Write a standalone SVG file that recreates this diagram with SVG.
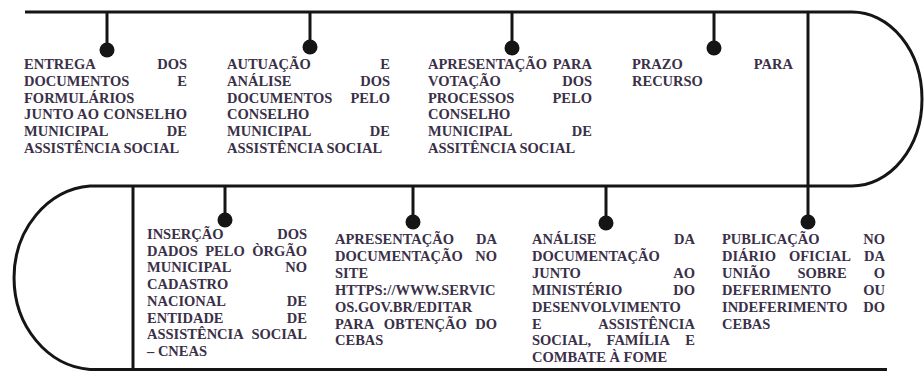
<svg xmlns="http://www.w3.org/2000/svg" width="924" height="371" viewBox="0 0 924 371">
<style>
.ln{fill:none;stroke:#151515;stroke-width:3}
.st{stroke:#151515;stroke-width:3}
.dot{fill:#151515}
.tx{font-family:'Liberation Serif','Times New Roman',Times,'DejaVu Serif',serif;font-weight:700;font-size:14.5px;fill:#3a3048}
.r{text-anchor:end}
.m{text-anchor:middle}
</style>
<rect width="924" height="371" fill="#fff"/>
<g id="connectors">
<path class="ln" d="M25 12 H852 A70 87 0 0 1 852 186 H90 A82 92 0 0 0 90 369.5 H887"/>
<line class="st" x1="133" y1="186" x2="133" y2="371"/>
<line class="st" x1="107" y1="12" x2="107" y2="50"/>
<line class="st" x1="310" y1="12" x2="310" y2="47"/>
<line class="st" x1="512" y1="12" x2="512" y2="48"/>
<line class="st" x1="714" y1="12" x2="714" y2="48"/>
<line class="st" x1="225" y1="186" x2="225" y2="220"/>
<line class="st" x1="413" y1="186" x2="413" y2="222"/>
<line class="st" x1="606" y1="186" x2="606" y2="223"/>
<line class="st" x1="808" y1="12" x2="808" y2="222"/>
</g>
<g class="tx" font-family="Liberation Serif, Times New Roman, DejaVu Serif, serif">
<g id="n1">
<circle class="dot" cx="107" cy="50" r="7.5"/>
<text x="24" y="69">ENTREGA</text><text class="r" x="187" y="69">DOS</text>
<text x="24" y="85.8">DOCUMENTOS</text><text class="r" x="187" y="85.8">E</text>
<text x="24" y="102.6">FORMULÁRIOS</text>
<text x="24" y="119.4" textLength="163" lengthAdjust="spacing">JUNTO AO CONSELHO</text>
<text x="24" y="136.2">MUNICIPAL</text><text class="r" x="187" y="136.2">DE</text>
<text x="24" y="153">ASSISTÊNCIA SOCIAL</text>
</g>
<g id="n2">
<circle class="dot" cx="310" cy="47" r="7.5"/>
<text x="227" y="69">AUTUAÇÃO</text><text class="r" x="390" y="69">E</text>
<text x="227" y="85.8">ANÁLISE</text><text class="r" x="390" y="85.8">DOS</text>
<text x="227" y="102.6">DOCUMENTOS</text><text class="r" x="390" y="102.6">PELO</text>
<text x="227" y="119.4">CONSELHO</text>
<text x="227" y="136.2">MUNICIPAL</text><text class="r" x="390" y="136.2">DE</text>
<text x="227" y="153">ASSISTÊNCIA SOCIAL</text>
</g>
<g id="n3">
<circle class="dot" cx="512" cy="48" r="7.5"/>
<text x="428" y="69">APRESENTAÇÃO</text><text class="r" x="592" y="69">PARA</text>
<text x="428" y="85.8">VOTAÇÃO</text><text class="r" x="592" y="85.8">DOS</text>
<text x="428" y="102.6">PROCESSOS</text><text class="r" x="592" y="102.6">PELO</text>
<text x="428" y="119.4">CONSELHO</text>
<text x="428" y="136.2">MUNICIPAL</text><text class="r" x="592" y="136.2">DE</text>
<text x="428" y="153">ASSITÊNCIA SOCIAL</text>
</g>
<g id="n4">
<circle class="dot" cx="714" cy="48" r="7.5"/>
<text x="632" y="69">PRAZO</text><text class="r" x="793" y="69">PARA</text>
<text x="632" y="85.8">RECURSO</text>
</g>
<g id="n5">
<circle class="dot" cx="225" cy="220" r="7.5"/>
<text x="147" y="239">INSERÇÃO</text><text class="r" x="307" y="239">DOS</text>
<text x="147" y="255.7">DADOS</text><text class="m" x="225" y="255.7">PELO</text><text class="r" x="307" y="255.7">ÒRGÃO</text>
<text x="147" y="272.4">MUNICIPAL</text><text class="r" x="307" y="272.4">NO</text>
<text x="147" y="289.1">CADASTRO</text>
<text x="147" y="305.8">NACIONAL</text><text class="r" x="307" y="305.8">DE</text>
<text x="147" y="322.5">ENTIDADE</text><text class="r" x="307" y="322.5">DE</text>
<text x="147" y="339.2">ASSISTÊNCIA</text><text class="r" x="307" y="339.2">SOCIAL</text>
<text x="147" y="355.9">– CNEAS</text>
</g>
<g id="n6">
<circle class="dot" cx="413" cy="222" r="7.5"/>
<text x="335" y="244">APRESENTAÇÃO</text><text class="r" x="497" y="244">DA</text>
<text x="335" y="260.9">DOCUMENTAÇÃO</text><text class="r" x="497" y="260.9">NO</text>
<text x="335" y="277.8">SITE</text>
<text x="335" y="294.7">HTTPS://WWW.SERVIC</text>
<text x="335" y="311.6">OS.GOV.BR/EDITAR</text>
<text x="335" y="328.5">PARA</text><text class="m" x="425.3" y="328.5">OBTENÇÃO</text><text class="r" x="497" y="328.5">DO</text>
<text x="335" y="345.4">CEBAS</text>
</g>
<g id="n7">
<circle class="dot" cx="606" cy="223" r="7.5"/>
<text x="532" y="244">ANÁLISE</text><text class="r" x="695" y="244">DA</text>
<text x="532" y="260.9">DOCUMENTAÇÃO</text>
<text x="532" y="277.8">JUNTO</text><text class="r" x="695" y="277.8">AO</text>
<text x="532" y="294.7">MINISTÉRIO</text><text class="r" x="695" y="294.7">DO</text>
<text x="532" y="311.6">DESENVOLVIMENTO</text>
<text x="532" y="328.5">E</text><text class="r" x="695" y="328.5">ASSISTÊNCIA</text>
<text x="532" y="345.4">SOCIAL,</text><text class="m" x="638.3" y="345.4">FAMÍLIA</text><text class="r" x="695" y="345.4">E</text>
<text x="532" y="362.3">COMBATE À FOME</text>
</g>
<g id="n8">
<circle class="dot" cx="808" cy="222" r="7.5"/>
<text x="722" y="244">PUBLICAÇÃO</text><text class="r" x="885" y="244">NO</text>
<text x="722" y="260.9">DIÁRIO</text><text class="m" x="820" y="260.9">OFICIAL</text><text class="r" x="885" y="260.9">DA</text>
<text x="722" y="277.8">UNIÃO</text><text class="m" x="822" y="277.8">SOBRE</text><text class="r" x="885" y="277.8">O</text>
<text x="722" y="294.7">DEFERIMENTO</text><text class="r" x="885" y="294.7">OU</text>
<text x="722" y="311.6">INDEFERIMENTO</text><text class="r" x="885" y="311.6">DO</text>
<text x="722" y="328.5">CEBAS</text>
</g>
</g>
</svg>
